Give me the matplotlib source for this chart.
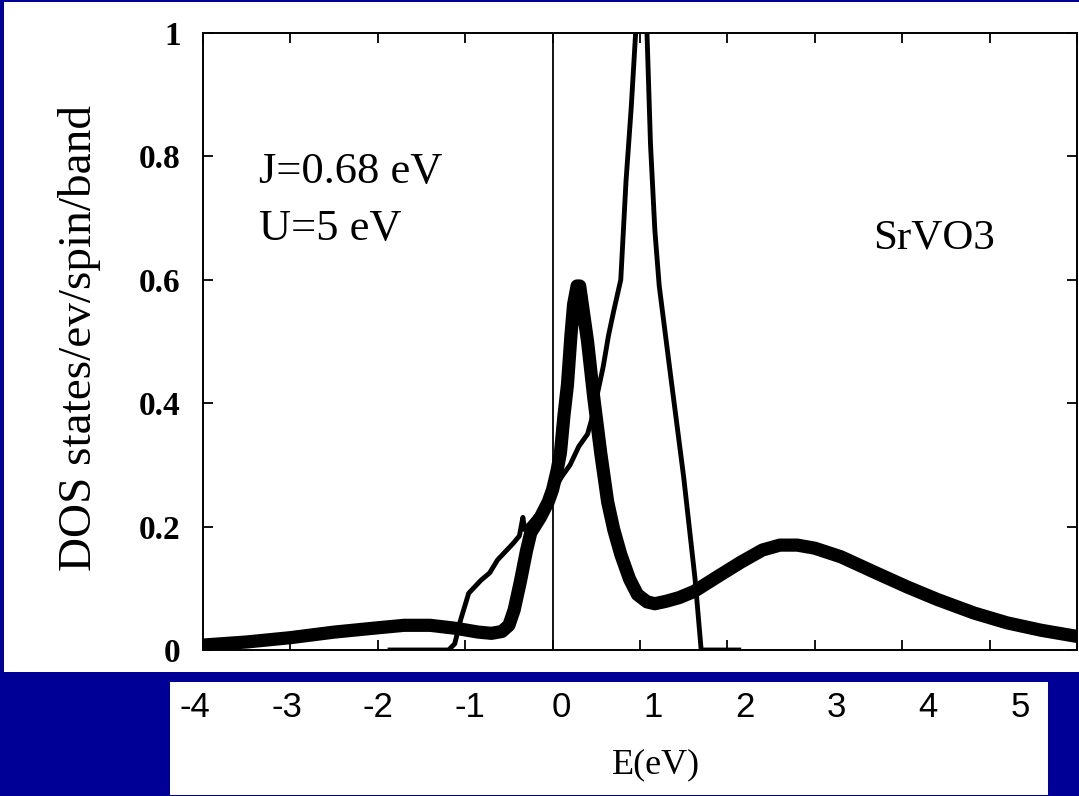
import numpy as np
import matplotlib
matplotlib.use('Agg')
import matplotlib.pyplot as plt
from matplotlib.patches import Rectangle
import matplotlib.transforms as mtransforms

# DMFT spectral function (thick) and LDA DOS (thin), SrVO3
E_dmft = [-4.0, -3.5, -3.0, -2.5, -2.0, -1.7, -1.4, -1.1, -0.85, -0.7, -0.58, -0.5,
          -0.44, -0.37, -0.3, -0.25, -0.14, -0.05, 0.0, 0.05, 0.09, 0.13, 0.17, 0.21,
          0.24, 0.28, 0.31, 0.35, 0.40, 0.47, 0.55, 0.63, 0.70, 0.78, 0.88, 0.97,
          1.08, 1.17, 1.3, 1.45, 1.62, 1.9, 2.15, 2.4, 2.6, 2.8, 3.0, 3.3, 3.7,
          4.06, 4.4, 4.82, 5.2, 5.59, 6.0]
dos_dmft = [0.008, 0.013, 0.020, 0.029, 0.036, 0.040, 0.040, 0.035, 0.029, 0.027, 0.030, 0.040,
            0.065, 0.11, 0.16, 0.19, 0.215, 0.24, 0.26, 0.29, 0.32, 0.38, 0.43, 0.51,
            0.56, 0.59, 0.59, 0.55, 0.50, 0.41, 0.32, 0.24, 0.195, 0.155, 0.115, 0.09,
            0.078, 0.075, 0.079, 0.085, 0.095, 0.12, 0.142, 0.162, 0.170, 0.170, 0.165, 0.151, 0.125,
            0.102, 0.082, 0.060, 0.044, 0.032, 0.022]

E_lda = [-1.86, -1.19, -1.12, -1.05, -0.96, -0.82, -0.72, -0.63, -0.55, -0.45, -0.38,
         -0.34, -0.32, -0.2, -0.1, -0.05, -0.03, 0.0, 0.1, 0.2, 0.3, 0.4, 0.44, 0.52,
         0.58, 0.64, 0.70, 0.78, 0.84, 0.90, 0.95, 1.02, 1.08, 1.12, 1.17, 1.22, 1.35,
         1.50, 1.63, 1.70, 2.13]
dos_lda = [0.0, 0.0, 0.01, 0.05, 0.092, 0.113, 0.125, 0.146, 0.158, 0.173, 0.185,
           0.215, 0.195, 0.215, 0.232, 0.238, 0.265, 0.255, 0.28, 0.30, 0.33, 0.35, 0.37, 0.42,
           0.46, 0.51, 0.55, 0.60, 0.76, 0.88, 1.0, 1.15, 1.0, 0.82, 0.68, 0.59, 0.445,
           0.28, 0.115, 0.0, 0.0]

xticks = [-4, -3, -2, -1, 0, 1, 2, 3, 4, 5]
xticklabels = ['-4', '-3', '-2', '-1', '0', '1', '2', '3', '4', '5']
yticks = [0, 0.2, 0.4, 0.6, 0.8, 1.0]
yticklabels = ['0', '0.2', '0.4', '0.6', '0.8', '1']

blue = '#000096'
serif = 'Liberation Serif'
W, H = 1079, 796

fig = plt.figure(figsize=(W / 100, H / 100), dpi=100)
fig.patch.set_facecolor(blue)

# white panel behind the plot
fig.patches.append(Rectangle((4 / W, 1 - 672 / H), 1075 / W, 670 / H,
                             transform=fig.transFigure, facecolor='white',
                             edgecolor='none', zorder=-5))

ax = fig.add_axes([203 / W, 1 - 650 / H, 874 / W, 617 / H])
ax.plot(E_dmft, dos_dmft, color='black', lw=9.5, solid_capstyle='butt', solid_joinstyle='round')
ax.plot(E_lda, dos_lda, color='black', lw=3.5, solid_joinstyle='round')
ax.axvline(0, color='black', lw=1.3)

ax.set_xlim(-4, 6)
ax.set_ylim(0, 1)
ax.set_xticks(range(-4, 7))
ax.set_yticks(yticks)
ax.set_yticklabels(yticklabels, family=serif, fontsize=24, fontweight='bold')
ax.tick_params(direction='in', top=True, right=True, labelbottom=False,
               length=7, width=1.3, pad=16)
for s in ax.spines.values():
    s.set_linewidth(1.4)

ax.text(-3.36, 0.757, 'J=0.68 eV', family=serif, fontsize=32, va='baseline')
ax.text(-3.36, 0.665, 'U=5 eV', family=serif, fontsize=32, va='baseline')
ax.text(3.67, 0.651, 'SrVO3', family=serif, fontsize=31, va='baseline')

fig.text(80 / W, 1 - 338 / H, 'DOS states/ev/spin/band', family=serif, fontsize=34,
         rotation=90, ha='center', va='center')

# tick label box underneath
box = fig.add_axes([170 / W, 1 - 795 / H, 878 / W, 113 / H])
box.set_xlim(-4.27, 5.305)
box.set_ylim(0, 1)
box.set_xticks([])
box.set_yticks([])
for s in box.spines.values():
    s.set_visible(False)
trans = mtransforms.blended_transform_factory(box.transData, box.transAxes)
for v, lab in zip(xticks, xticklabels):
    box.text(v, 0.69, lab, family='Liberation Sans', fontsize=25,
             ha='center', va='baseline', transform=trans)
box.text(0.5535, 0.27, 'E(eV)', family=serif, fontsize=26,
         ha='center', va='center', transform=box.transAxes)

fig.savefig('out.png', dpi=100, facecolor=blue)
